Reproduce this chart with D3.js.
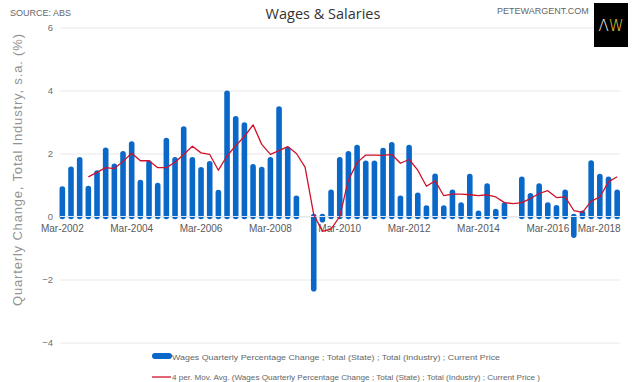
<!DOCTYPE html>
<html><head><meta charset="utf-8">
<script src="https://cdn.jsdelivr.net/npm/d3@7"></script>
<style>
body{margin:0;background:#fff;}
svg{display:block;font-family:"Liberation Sans",Arial,sans-serif;}
</style></head>
<body><svg id="c" width="640" height="382"></svg>
<script>
const categories = ["Mar-2002","Jun-2002","Sep-2002","Dec-2002","Mar-2003","Jun-2003","Sep-2003","Dec-2003",
"Mar-2004","Jun-2004","Sep-2004","Dec-2004","Mar-2005","Jun-2005","Sep-2005","Dec-2005",
"Mar-2006","Jun-2006","Sep-2006","Dec-2006","Mar-2007","Jun-2007","Sep-2007","Dec-2007",
"Mar-2008","Jun-2008","Sep-2008","Dec-2008","Mar-2009","Jun-2009","Sep-2009","Dec-2009",
"Mar-2010","Jun-2010","Sep-2010","Dec-2010","Mar-2011","Jun-2011","Sep-2011","Dec-2011",
"Mar-2012","Jun-2012","Sep-2012","Dec-2012","Mar-2013","Jun-2013","Sep-2013","Dec-2013",
"Mar-2014","Jun-2014","Sep-2014","Dec-2014","Mar-2015","Jun-2015","Sep-2015","Dec-2015",
"Mar-2016","Jun-2016","Sep-2016","Dec-2016","Mar-2017","Jun-2017","Sep-2017","Dec-2017","Mar-2018"];

const wagesChange = [0.87,1.50,1.80,0.89,1.38,2.10,1.59,1.99,2.30,1.08,1.70,0.98,2.41,1.80,2.78,1.80,
1.48,1.67,0.76,3.91,3.10,2.90,1.58,1.49,1.80,3.41,2.12,0.58,null,-2.29,-0.10,0.77,
1.80,1.99,2.19,1.69,1.69,2.09,2.28,0.58,2.19,0.67,0.27,1.28,0.27,0.77,0.36,1.27,
0.10,0.97,0.16,0.36,null,1.18,0.66,0.97,0.36,0.28,0.77,-0.59,0.10,1.70,1.27,1.18,0.77];

const movAvg = [null,null,null,1.26,1.40,1.55,1.52,1.75,2.01,1.77,1.77,1.55,1.55,1.72,1.97,2.23,
2.02,1.97,1.47,1.92,2.25,2.54,2.91,2.29,1.97,2.09,2.22,2.00,1.57,0.06,-0.47,-0.40,
0.00,1.16,1.71,1.95,1.95,1.94,1.97,1.69,1.81,1.47,0.96,1.13,0.66,0.71,0.71,0.69,
0.66,0.69,0.62,0.44,0.41,0.44,0.57,0.73,0.82,0.60,0.62,0.19,0.13,0.49,0.62,1.10,1.26];

const xTicks = ["Mar-2002","Mar-2004","Mar-2006","Mar-2008","Mar-2010","Mar-2012","Mar-2014","Mar-2016","Mar-2018"];
const yTicks = [-4,-2,0,2,4,6];

const barLabel = "Wages Quarterly Percentage Change ;  Total (State) ;  Total (Industry) ;  Current Price";
const lineLabel = "4 per. Mov. Avg. (Wages Quarterly Percentage Change ;  Total (State) ;  Total (Industry) ;  Current Price )";

const svg = d3.select("#c");
const x = d3.scaleBand().domain(categories).range([58, 621.5]).padding(0);
const y = d3.scaleLinear().domain([-4, 6]).range([342.5, 27.5]);
const cx = d => x(d) + x.bandwidth() / 2;
const gray = "#5a5a5a";
const ff = "Liberation Sans, Arial, sans-serif";

// gridlines
const grid = svg.append("g")
  .attr("transform", "translate(60,0)")
  .call(d3.axisLeft(y).tickValues(yTicks).tickSize(-560).tickFormat(""));
grid.select(".domain").remove();
grid.selectAll("line").attr("stroke", "#e8e8e8");

// y tick labels
const yAx = svg.append("g").attr("transform", "translate(53,0)")
  .call(d3.axisLeft(y).tickValues(yTicks).tickSize(0).tickPadding(0).tickFormat(d3.format("d")));
yAx.select(".domain").remove();
yAx.selectAll("text").attr("fill", "#707070").style("font-size", "9.5px").style("font-family", ff);

// bars
const bd = categories.map((c, i) => ({c, v: wagesChange[i]})).filter(d => d.v !== null);
svg.append("g").selectAll("line").data(bd).join("line")
  .attr("x1", d => cx(d.c)).attr("x2", d => cx(d.c))
  .attr("y1", y(0)).attr("y2", d => y(d.v))
  .attr("stroke", "#0a68c8").attr("stroke-width", 5.6).attr("stroke-linecap", "round");

// zero line over bars
svg.append("line").attr("x1", 60).attr("x2", 620).attr("y1", y(0)).attr("y2", y(0))
  .attr("stroke", "#e3e9f0").attr("stroke-width", 1);

// x axis labels
const xAx = svg.append("g").attr("transform", `translate(0,${y(0)})`)
  .call(d3.axisBottom(x).tickValues(xTicks).tickSize(0).tickPadding(8));
xAx.select(".domain").remove();
xAx.selectAll("text").attr("fill", gray).style("font-size", "10px").style("font-family", ff);
xAx.selectAll(".tick").each(function() {
  const t = d3.select(this).select("text");
  const b = this.getBBox();
  const m = this.transform.baseVal.consolidate().matrix.e;
  if (m + b.x + b.width > 621) t.attr("dx", (621 - (m + b.x + b.width)) + "px");
});

// moving average line
const md = categories.map((c, i) => ({c, v: movAvg[i]}));
svg.append("path").datum(md)
  .attr("fill", "none").attr("stroke", "#d0112b").attr("stroke-width", 1.3).attr("stroke-linejoin", "round")
  .attr("d", d3.line().defined(d => d.v !== null).x(d => cx(d.c)).y(d => y(d.v)));

// y axis title
svg.append("text").attr("transform", "translate(22,170) rotate(-90)")
  .attr("text-anchor", "middle").attr("fill", "#939393").style("font-size", "13px")
  .attr("textLength", 272).attr("lengthAdjust", "spacing")
  .text("Quarterly Change, Total Industry, s.a. (%)");

// header
svg.append("text").attr("x", 10).attr("y", 16).attr("fill", "#666").style("font-size", "9px").text("SOURCE: ABS");
svg.append("text").attr("x", 323).attr("y", 19).attr("text-anchor", "middle").attr("fill", "#333")
  .style("font-family", "Open Sans, sans-serif").style("font-size", "14.5px").text("Wages & Salaries");
svg.append("text").attr("x", 497).attr("y", 14).attr("fill", "#666").style("font-size", "9px").text("PETEWARGENT.COM");
svg.append("rect").attr("x", 594).attr("y", 3).attr("width", 34).attr("height", 44).attr("fill", "#000");
const logo = svg.append("text").attr("x", 611).attr("y", 31).attr("text-anchor", "middle")
  .style("font-size", "15px").style("font-family", "DejaVu Sans, sans-serif").style("font-weight", "300");
logo.append("tspan").attr("fill", "#fff").text("Λ");
logo.append("tspan").attr("fill", "#e6d53a").text("W");

// legend
svg.append("rect").attr("x", 152).attr("y", 353).attr("width", 20).attr("height", 6).attr("rx", 3).attr("fill", "#0a68c8");
svg.append("text").attr("x", 172).attr("y", 359.5).attr("fill", "#666").style("font-size", "8px")
  .attr("textLength", 328).attr("lengthAdjust", "spacingAndGlyphs").text(barLabel);
svg.append("line").attr("x1", 152).attr("x2", 171).attr("y1", 377).attr("y2", 377).attr("stroke", "#d0112b").attr("stroke-width", 1.3);
svg.append("text").attr("x", 172).attr("y", 380).attr("fill", "#666").style("font-size", "8px")
  .attr("textLength", 368).attr("lengthAdjust", "spacingAndGlyphs").text(lineLabel);
</script></body></html>
